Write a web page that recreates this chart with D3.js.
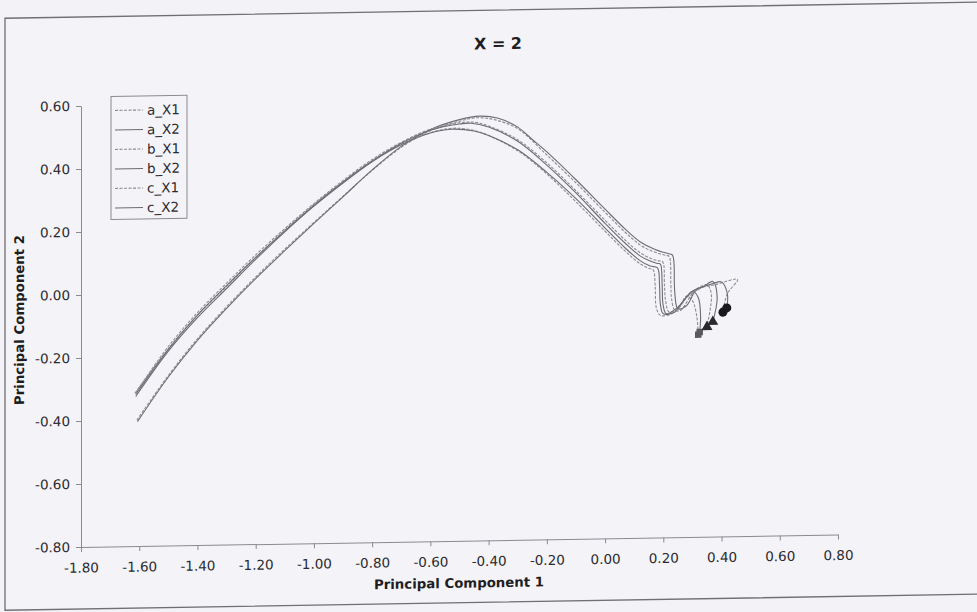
<!DOCTYPE html>
<html>
<head>
<meta charset="utf-8">
<script src="https://cdn.jsdelivr.net/npm/d3@7/dist/d3.min.js"></script>
<style>
    html, body { margin: 0; padding: 0; background: #f3f2f7; }
    svg { display: block; }
</style>
</head>
<body>
<div id="chart"></div>
<script>
const chartTitle = 'X = 2';
const xLabel = 'Principal Component 1';
const yLabel = 'Principal Component 2';
const seriesNames = ['a_X1', 'a_X2', 'b_X1', 'b_X2', 'c_X1', 'c_X2'];
const xTickValues = [-1.8, -1.6, -1.4, -1.2, -1.0, -0.8, -0.6, -0.4, -0.2, 0.0, 0.2, 0.4, 0.6, 0.8];
const yTickValues = [0.6, 0.4, 0.2, 0.0, -0.2, -0.4, -0.6, -0.8];

// [PC1, PC2] pairs
const a_X1 = [[-1.615, -0.315], [-1.5, -0.175], [-1.4, -0.07], [-1.3, 0.02], [-1.2, 0.11], [-1.1, 0.195], [-1.0, 0.275], [-0.9, 0.345], [-0.8, 0.41], [-0.7, 0.462], [-0.6, 0.497], [-0.52, 0.51], [-0.45, 0.502], [-0.4, 0.485], [-0.3, 0.435], [-0.2, 0.36], [-0.1, 0.27], [0.0, 0.175], [0.07, 0.11], [0.12, 0.07], [0.15, 0.055], [0.165, 0.05], [0.172, 0.0], [0.176, -0.07], [0.19, -0.095], [0.23, -0.09], [0.26, -0.06], [0.28, -0.035], [0.3, -0.05], [0.315, -0.1], [0.32, -0.158]];
const a_X2 = [[-1.612, -0.325], [-1.5, -0.183], [-1.4, -0.078], [-1.3, 0.013], [-1.2, 0.104], [-1.1, 0.19], [-1.0, 0.27], [-0.9, 0.342], [-0.8, 0.408], [-0.7, 0.46], [-0.6, 0.496], [-0.53, 0.507], [-0.45, 0.5], [-0.4, 0.485], [-0.3, 0.438], [-0.2, 0.365], [-0.1, 0.28], [0.0, 0.185], [0.07, 0.12], [0.12, 0.08], [0.155, 0.062], [0.18, 0.056], [0.187, 0.0], [0.19, -0.06], [0.2, -0.09], [0.24, -0.085], [0.27, -0.05], [0.3, -0.02], [0.32, -0.04], [0.328, -0.1], [0.325, -0.15]];
const b_X1 = [[-1.608, -0.4], [-1.5, -0.26], [-1.4, -0.145], [-1.3, -0.045], [-1.2, 0.048], [-1.1, 0.135], [-1.0, 0.218], [-0.9, 0.3], [-0.8, 0.38], [-0.7, 0.452], [-0.6, 0.503], [-0.5, 0.532], [-0.44, 0.542], [-0.38, 0.535], [-0.3, 0.505], [-0.2, 0.42], [-0.1, 0.33], [0.0, 0.235], [0.07, 0.17], [0.12, 0.13], [0.16, 0.11], [0.19, 0.1], [0.21, 0.095], [0.22, 0.092], [0.226, 0.0], [0.228, -0.04], [0.24, -0.08], [0.26, -0.08], [0.29, -0.04], [0.32, -0.01], [0.35, 0.0], [0.365, -0.03], [0.35, -0.134]];
const b_X2 = [[-1.606, -0.405], [-1.5, -0.265], [-1.4, -0.15], [-1.3, -0.05], [-1.2, 0.043], [-1.1, 0.13], [-1.0, 0.215], [-0.9, 0.298], [-0.8, 0.382], [-0.7, 0.455], [-0.6, 0.507], [-0.5, 0.537], [-0.43, 0.547], [-0.37, 0.54], [-0.3, 0.51], [-0.25, 0.47], [-0.2, 0.43], [-0.1, 0.34], [0.0, 0.245], [0.07, 0.18], [0.12, 0.14], [0.17, 0.115], [0.2, 0.105], [0.22, 0.1], [0.232, 0.095], [0.238, 0.0], [0.24, -0.03], [0.25, -0.075], [0.28, -0.065], [0.31, -0.02], [0.34, -0.005], [0.37, 0.01], [0.385, -0.04], [0.37, -0.118]];
const c_X1 = [[-1.61, -0.31], [-1.5, -0.168], [-1.4, -0.062], [-1.3, 0.03], [-1.2, 0.118], [-1.1, 0.2], [-1.0, 0.278], [-0.9, 0.35], [-0.8, 0.415], [-0.7, 0.468], [-0.6, 0.508], [-0.5, 0.527], [-0.45, 0.528], [-0.4, 0.515], [-0.3, 0.47], [-0.2, 0.395], [-0.1, 0.305], [0.0, 0.21], [0.07, 0.145], [0.12, 0.105], [0.16, 0.085], [0.185, 0.078], [0.198, 0.075], [0.204, 0.0], [0.208, -0.05], [0.22, -0.085], [0.25, -0.075], [0.28, -0.04], [0.33, -0.01], [0.38, 0.0], [0.455, 0.015], [0.42, -0.03], [0.405, -0.088]];
const c_X2 = [[-1.612, -0.318], [-1.5, -0.177], [-1.4, -0.07], [-1.3, 0.022], [-1.2, 0.11], [-1.1, 0.193], [-1.0, 0.272], [-0.9, 0.345], [-0.8, 0.41], [-0.7, 0.465], [-0.6, 0.505], [-0.5, 0.523], [-0.46, 0.525], [-0.4, 0.512], [-0.3, 0.465], [-0.2, 0.388], [-0.1, 0.298], [0.0, 0.2], [0.07, 0.135], [0.12, 0.095], [0.155, 0.078], [0.18, 0.07], [0.19, 0.068], [0.196, 0.0], [0.199, -0.06], [0.21, -0.09], [0.25, -0.07], [0.3, -0.02], [0.36, 0.0], [0.4, 0.008], [0.42, -0.03], [0.418, -0.075]];

const seriesValues = [a_X1, a_X2, b_X1, b_X2, c_X1, c_X2];

const width = 977;
const height = 612;
const margins = { top: 106, right: 139, bottom: 65, left: 81 };

const svg = d3
    .select('#chart')
    .append('svg')
    .attr('width', width)
    .attr('height', height);

// the source is a slightly skewed scan, keep that tilt
const root = svg.append('g').attr('transform', 'translate(0,1.34) skewY(-0.945)');

root.append('rect')
    .attr('x', 5)
    .attr('y', 17)
    .attr('width', 1000)
    .attr('height', 592)
    .style('fill', '#f4f3f8')
    .style('stroke', '#6f6f74')
    .style('stroke-width', 1.3);

const x = d3.scaleLinear().domain([-1.8, 0.8]).range([margins.left, width - margins.right]);
const y = d3.scaleLinear().domain([-0.8, 0.6]).range([height - margins.bottom, margins.top]);

const fmt = (d) => (Math.abs(d) < 1e-9 ? 0 : d).toFixed(2);

const yAxis = root.append('g')
    .attr('transform', `translate(${margins.left},0)`)
    .call(d3.axisLeft(y).tickValues(yTickValues).tickFormat(fmt).tickSize(5).tickPadding(6).tickSizeOuter(0));

const xAxis = root.append('g')
    .attr('transform', `translate(0,${y(-0.8)})`)
    .call(d3.axisBottom(x).tickValues(xTickValues).tickFormat(fmt).tickSize(5).tickPadding(11).tickSizeOuter(0));

[xAxis, yAxis].forEach((g) => {
    g.select('.domain').style('stroke', '#8a8a90');
    g.selectAll('.tick line').style('stroke', '#8a8a90');
    g.selectAll('.tick text')
        .style('font-family', '"DejaVu Sans", Verdana, sans-serif')
        .style('font-size', '13.5px')
        .style('fill', '#2a2a2e');
});

root.append('text')
    .attr('x', 498)
    .attr('y', 56)
    .attr('text-anchor', 'middle')
    .style('font-family', '"DejaVu Sans", Tahoma, sans-serif')
    .style('font-weight', 'bold')
    .style('font-size', '16px')
    .style('fill', '#1e1e22')
    .text(chartTitle);

root.append('text')
    .attr('x', 459)
    .attr('y', 594)
    .attr('text-anchor', 'middle')
    .style('font-family', '"DejaVu Sans", Tahoma, sans-serif')
    .style('font-weight', 'bold')
    .style('font-size', '13.3px')
    .style('fill', '#1e1e22')
    .text(xLabel);

root.append('text')
    .attr('transform', 'translate(24,319) rotate(-90)')
    .attr('text-anchor', 'middle')
    .style('font-family', '"DejaVu Sans", Tahoma, sans-serif')
    .style('font-weight', 'bold')
    .style('font-size', '13.3px')
    .style('fill', '#1e1e22')
    .text(yLabel);

const strokeFor = (i) => (i % 2 === 0 ? '#8c8c92' : '#6c6c72');
const dashFor = (i) => (i % 2 === 0 ? '3,1.5' : null);

const line = d3.line()
    .x((d) => x(d[0]))
    .y((d) => y(d[1]))
    .curve(d3.curveCatmullRom.alpha(0.5));

root.selectAll('.series')
    .data(seriesValues)
    .enter()
    .append('path')
    .attr('class', 'series')
    .attr('d', line)
    .style('fill', 'none')
    .style('stroke', (d, i) => strokeFor(i))
    .style('stroke-width', 1.1)
    .style('stroke-dasharray', (d, i) => dashFor(i));

// end markers: squares for a, triangles for b, circles for c
const symbolTypes = [d3.symbolSquare, d3.symbolSquare, d3.symbolTriangle, d3.symbolTriangle, d3.symbolCircle, d3.symbolCircle];
const symbolSizes = [42, 42, 52, 52, 64, 64];
const symbolFills = ['#5a5a5e', '#5a5a5e', '#2a2a2e', '#2a2a2e', '#1a1a1e', '#1a1a1e'];

root.selectAll('.end-marker')
    .data(seriesValues)
    .enter()
    .append('path')
    .attr('class', 'end-marker')
    .attr('transform', (d) => {
        const last = d[d.length - 1];
        return `translate(${x(last[0])},${y(last[1])})`;
    })
    .attr('d', (d, i) => d3.symbol().type(symbolTypes[i]).size(symbolSizes[i])())
    .style('fill', (d, i) => symbolFills[i]);

// légende
const legend = root.append('g').attr('transform', 'translate(111,97)');
legend.append('rect')
    .attr('width', 76)
    .attr('height', 123)
    .style('fill', '#f4f3f8')
    .style('stroke', '#8a8a90');

const legendRows = legend.selectAll('.legend-row')
    .data(seriesNames)
    .enter()
    .append('g')
    .attr('class', 'legend-row')
    .attr('transform', (d, i) => `translate(0,${14 + i * 19.5})`);

legendRows.append('line')
    .attr('x1', 4)
    .attr('x2', 32)
    .style('stroke', (d, i) => strokeFor(i))
    .style('stroke-width', 1.1)
    .style('stroke-dasharray', (d, i) => dashFor(i));

legendRows.append('text')
    .attr('x', 36)
    .attr('dy', '0.35em')
    .style('font-family', '"DejaVu Sans", Verdana, sans-serif')
    .style('font-size', '13.5px')
    .style('fill', '#2a2a2e')
    .text((d) => d);
</script>
</body>
</html>
